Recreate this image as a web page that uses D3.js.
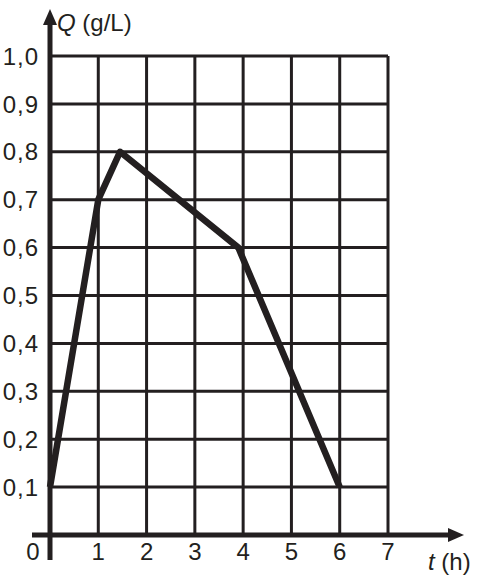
<!DOCTYPE html>
<html>
<head>
<meta charset="utf-8">
<script src="https://cdn.jsdelivr.net/npm/d3@7"></script>
<style>
  body { margin: 0; background: #fff; }
  text { font-family: "Liberation Sans", Arial, sans-serif; fill: #231f20; }
</style>
</head>
<body>
<svg id="chart"></svg>
<script>
// data
const tValues = [0, 1, 1.45, 3.9, 6];
const qValues = [0.1, 0.7, 0.8, 0.6, 0.1];
const xTicks = [1, 2, 3, 4, 5, 6, 7];
const yTicks = [0.1, 0.2, 0.3, 0.4, 0.5, 0.6, 0.7, 0.8, 0.9, 1.0];

const width = 479;
const height = 577;
const ink = "#231f20";

const svg = d3.select("#chart").attr("width", width).attr("height", height);

const x = d3.scaleLinear().domain([0, 7]).range([50, 388]);
const y = d3.scaleLinear().domain([0, 1]).range([535, 56]);

// grid
const grid = svg.append("g").attr("stroke", ink).attr("stroke-width", 3);
grid.selectAll("line.v")
  .data(xTicks)
  .join("line")
  .attr("class", "v")
  .attr("x1", (d) => x(d))
  .attr("x2", (d) => x(d))
  .attr("y1", y(0))
  .attr("y2", y(1));
grid.selectAll("line.h")
  .data(yTicks)
  .join("line")
  .attr("class", "h")
  .attr("x1", x(0))
  .attr("x2", x(7))
  .attr("y1", (d) => y(d))
  .attr("y2", (d) => y(d));

// axes
const axes = svg.append("g").attr("stroke", ink).attr("stroke-width", 5);
axes.append("line")
  .attr("x1", 32).attr("x2", 452)
  .attr("y1", y(0)).attr("y2", y(0));
axes.append("line")
  .attr("x1", x(0)).attr("x2", x(0))
  .attr("y1", 560).attr("y2", 22);

svg.append("path")
  .attr("d", `M464,${y(0)} L448,${y(0) - 7} L448,${y(0) + 7} Z`)
  .attr("fill", ink);
svg.append("path")
  .attr("d", `M${x(0)},9 L${x(0) - 7},25 L${x(0) + 7},25 Z`)
  .attr("fill", ink);

// curve
const pts = tValues.map((t, i) => [t, qValues[i]]);
svg.append("path")
  .datum(pts)
  .attr("fill", "none")
  .attr("stroke", ink)
  .attr("stroke-width", 6.5)
  .attr("stroke-linejoin", "round")
  .attr("d", d3.line().x((d) => x(d[0])).y((d) => y(d[1])));

// tick labels
const fmt = (d) => d.toFixed(1).replace(".", ",");
svg.append("g")
  .selectAll("text")
  .data(yTicks)
  .join("text")
  .attr("x", 39)
  .attr("y", (d) => y(d))
  .attr("dy", "0.36em")
  .attr("text-anchor", "end")
  .attr("font-size", 24)
  .attr("letter-spacing", 1)
  .text(fmt);

svg.append("g")
  .selectAll("text")
  .data([0].concat(xTicks))
  .join("text")
  .attr("x", (d) => (d === 0 ? 33 : x(d)))
  .attr("y", 560)
  .attr("text-anchor", "middle")
  .attr("font-size", 24)
  .text((d) => d);

// axis titles
const qt = svg.append("text").attr("x", 57).attr("y", 31).attr("font-size", 24);
qt.append("tspan").attr("font-style", "italic").text("Q");
qt.append("tspan").text(" (g/L)");

const tt = svg.append("text").attr("x", 428).attr("y", 570).attr("font-size", 24);
tt.append("tspan").attr("font-style", "italic").text("t");
tt.append("tspan").text(" (h)");
</script>
</body>
</html>
